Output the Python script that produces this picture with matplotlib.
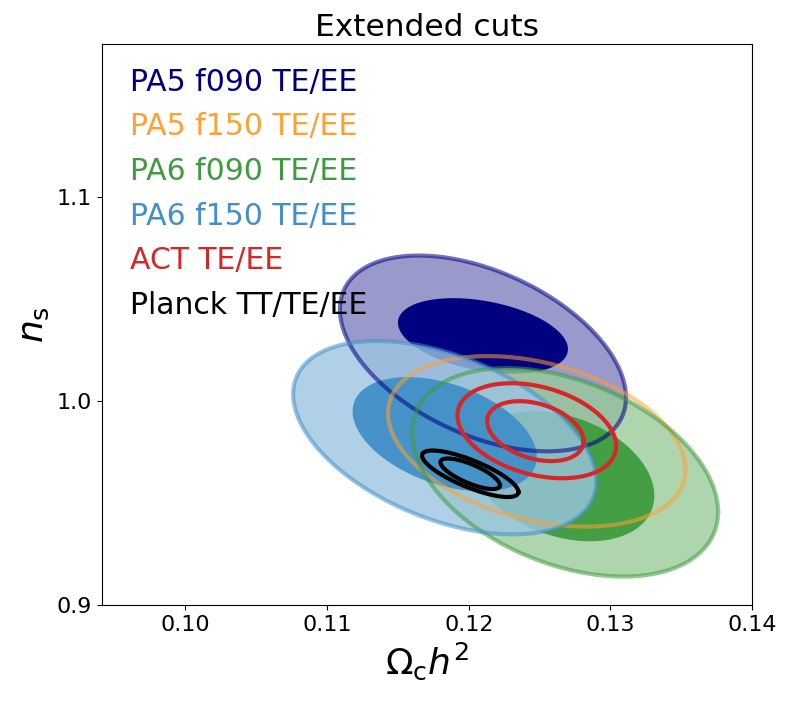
import matplotlib.pyplot as plt
import numpy as np
from matplotlib.colors import to_rgb

# one entry per data set: label, colour
labels = ['PA5 f090 TE/EE', 'PA5 f150 TE/EE', 'PA6 f090 TE/EE',
          'PA6 f150 TE/EE', 'ACT TE/EE', 'Planck TT/TE/EE']
colors = ['#000080', '#ffa030', '#3e9b3e', '#4190c8', '#d62728', 'black']
filled = [True, False, True, True, False, False]

# 95% contours: centre, half extent in x and y, correlation
outer_cx = [0.1210, 0.1248, 0.1268, 0.1183, 0.1248, 0.1201]
outer_cy = [1.0234, 0.9803, 0.9651, 0.9821, 0.9855, 0.9644]
outer_sx = [0.0101, 0.0105, 0.0108, 0.0107, 0.0056, 0.0034]
outer_sy = [0.0480, 0.0418, 0.0511, 0.0474, 0.0233, 0.0114]
outer_r = [-0.45, -0.33, -0.38, -0.45, -0.32, -0.78]

# 68% contours (None where not drawn)
inner_cx = [0.1210, None, 0.1266, 0.1183, 0.1247, 0.1201]
inner_cy = [1.0320, None, 0.9632, 0.9838, 0.9853, 0.9644]
inner_sx = [0.0060, None, 0.0065, 0.0065, 0.0034, 0.0021]
inner_sy = [0.0185, None, 0.0319, 0.0280, 0.0147, 0.0075]
inner_r = [-0.35, None, -0.30, -0.40, -0.33, -0.75]

t = np.linspace(0, 2 * np.pi, 400)


def ellipse(cx, cy, sx, sy, r):
    x = cx + sx * np.cos(t)
    y = cy + sy * (r * np.cos(t) + np.sqrt(1 - r ** 2) * np.sin(t))
    return x, y


def lighten(c, f=0.4):
    c = np.array(to_rgb(c))
    return tuple(c * f + (1 - f))


fig = plt.figure(figsize=(7.9, 7.02), dpi=100)
ax = fig.add_axes([0.129, 0.138, 0.823, 0.799])

# fills
for i in [0, 2, 3]:
    if i == 0:
        a, f = 1.0, 0.4
    else:
        a, f = 0.8, 0.52
    x, y = ellipse(outer_cx[i], outer_cy[i], outer_sx[i], outer_sy[i], outer_r[i])
    ax.fill(x, y, color=lighten(colors[i], f), alpha=a, lw=0)
    x, y = ellipse(inner_cx[i], inner_cy[i], inner_sx[i], inner_sy[i], inner_r[i])
    ax.fill(x, y, color=colors[i], alpha=0.95 if i else 1.0, lw=0)

# outlines
for i in range(6):
    x, y = ellipse(outer_cx[i], outer_cy[i], outer_sx[i], outer_sy[i], outer_r[i])
    if filled[i] or i == 1:
        ax.plot(x, y, color=colors[i], alpha=0.55, lw=3)
    else:
        ax.plot(x, y, color=colors[i], lw=3)
        x, y = ellipse(inner_cx[i], inner_cy[i], inner_sx[i], inner_sy[i], inner_r[i])
        ax.plot(x, y, color=colors[i], lw=3)

for k, (lab, c) in enumerate(zip(labels, colors)):
    ax.text(0.043, 0.932 - k * 0.0795, lab, color=c, fontsize=21.5,
            transform=ax.transAxes, va='center', ha='left')

ax.set_xlim(0.0941, 0.14)
ax.set_ylim(0.9, 1.175)
ax.set_xticks([0.10, 0.11, 0.12, 0.13, 0.14])
ax.set_xticklabels(['0.10', '0.11', '0.12', '0.13', '0.14'])
ax.set_yticks([0.9, 1.0, 1.1])
ax.set_yticklabels(['0.9', '1.0', '1.1'])
ax.tick_params(labelsize=16)
ax.set_title('Extended cuts', fontsize=22.5)
ax.set_xlabel(r'$\Omega_{\rm c}h^2$', fontsize=26)
ax.set_ylabel(r'$n_{\rm s}$', fontsize=26)

plt.savefig('out.png', dpi=100)
